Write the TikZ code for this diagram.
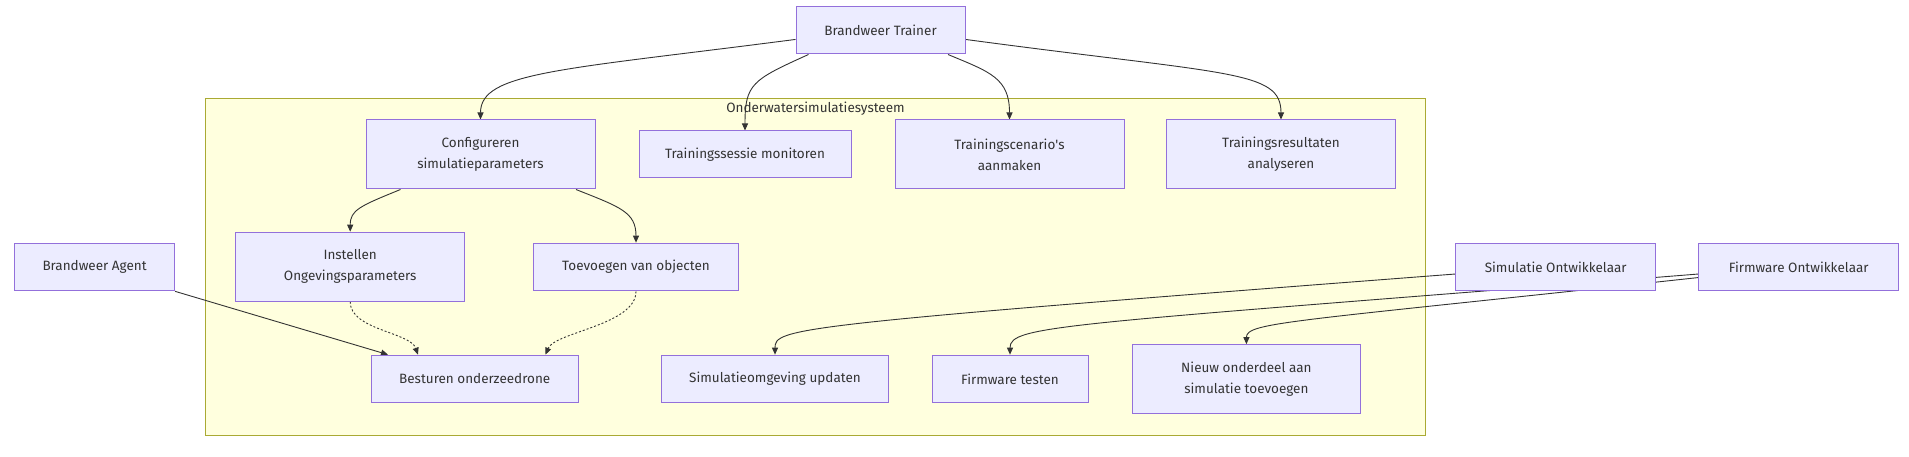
\documentclass[tikz,border=0pt]{standalone}
\usepackage{fontspec}
\setmainfont{Fira Sans}
\usetikzlibrary{arrows.meta, backgrounds}
\definecolor{boxfill}{HTML}{ECECFF}
\definecolor{boxline}{HTML}{9370DB}
\definecolor{clusterfill}{HTML}{FFFFDE}
\definecolor{clusterline}{HTML}{AAAA33}
\definecolor{ink}{HTML}{333333}

\begin{document}
\begin{tikzpicture}[x=1pt, y=-1pt,
	box/.style={draw=boxline, fill=boxfill, line width=1pt, text=ink, align=center,
		inner sep=0pt, font=\fontsize{13.5}{20.7}\selectfont},
	flow/.style={draw=ink, line width=0.9pt, -{Triangle[length=7pt,width=6pt]}},
	dotflow/.style={flow, dash pattern=on 2pt off 2pt}]
	\useasboundingbox (0,0) rectangle (1909,457);
	
	\node[box, minimum width=169pt, minimum height=47pt] (trainer) at (880.5,30.5) {Brandweer Trainer};
	\node[box, minimum width=229pt, minimum height=69pt] (configureren) at (480.5,154.5) {Configureren\\simulatieparameters};
	\node[box, minimum width=212pt, minimum height=47pt] (monitoren) at (745,154.5) {Trainingssessie monitoren};
	\node[box, minimum width=229pt, minimum height=69pt] (scenarios) at (1009.5,154.5) {Trainingscenario\textquotesingle s\\aanmaken};
	\node[box, minimum width=229pt, minimum height=69pt] (resultaten) at (1281,154.5) {Trainingsresultaten\\analyseren};
	\node[box, minimum width=160pt, minimum height=47.7pt] (agent) at (94.6,267) {Brandweer Agent};
	\node[box, minimum width=229pt, minimum height=69pt] (instellen) at (350.2,266.7) {Instellen\\Ongevingsparameters};
	\node[box, minimum width=205pt, minimum height=47.7pt] (toevoegen) at (636,267) {Toevoegen van objecten};
	\node[box, minimum width=207pt, minimum height=47.7pt] (besturen) at (474.7,379) {Besturen onderzeedrone};
	\node[box, minimum width=226.6pt, minimum height=47.7pt] (simupdate) at (775,379) {Simulatieomgeving updaten};
	\node[box, minimum width=156pt, minimum height=47.7pt] (fwtesten) at (1010,379) {Firmware testen};
	\node[box, minimum width=228.7pt, minimum height=68.6pt] (onderdeel) at (1246.4,379) {Nieuw onderdeel aan\\simulatie toevoegen};
	\node[box, minimum width=199.5pt, minimum height=47.7pt] (simontw) at (1555.7,267) {Simulatie Ontwikkelaar};
	\node[box, minimum width=200pt, minimum height=47.7pt] (fwontw) at (1798.7,267) {Firmware Ontwikkelaar};
	\node[text=ink, font=\fontsize{13.5}{16}\selectfont] (clusterlabel) at (815.5,109) {Onderwatersimulatiesysteem};
	
	\begin{scope}[on background layer]
		\draw[fill=clusterfill, draw=clusterline, line width=1pt] (205.4,98.3) rectangle (1425.6,435);
		\draw[flow] (trainer.186) .. controls (560,70) and (480.5,72) .. (configureren.north);
		\draw[flow] ([xshift=-72pt]trainer.south) .. controls (752,80) and (745,84) .. (monitoren.north);
		\draw[flow] ([xshift=67.5pt]trainer.south) .. controls (990,72) and (1009.5,78) .. (scenarios.north);
		\draw[flow] (trainer.-6) .. controls (1230,75) and (1281,70) .. (resultaten.north);
		\draw[flow] ([xshift=-80pt]configureren.south) .. controls (360,206) and (350.2,210) .. (instellen.north);
		\draw[flow] ([xshift=95.5pt]configureren.south) .. controls (620,207) and (636,212) .. (toevoegen.north);
		\draw[flow] (agent.south east) -- ([xshift=-86.7pt]besturen.north);
		\draw[dotflow] (instellen.south) .. controls (350.2,330) and (410,332) .. ([xshift=-56.7pt]besturen.north);
		\draw[dotflow] (toevoegen.south) .. controls (636,325) and (555,332) .. ([xshift=70.8pt]besturen.north);
		\draw[flow] (simontw.184) .. controls (790,325) and (775,328) .. (simupdate.north);
		\draw[flow] (fwontw.184) .. controls (1060,325) and (1010,325) .. (fwtesten.north);
		\draw[flow] (fwontw.186) .. controls (1290,322) and (1246.4,322) .. (onderdeel.north);
	\end{scope}
\end{tikzpicture}
\end{document}
